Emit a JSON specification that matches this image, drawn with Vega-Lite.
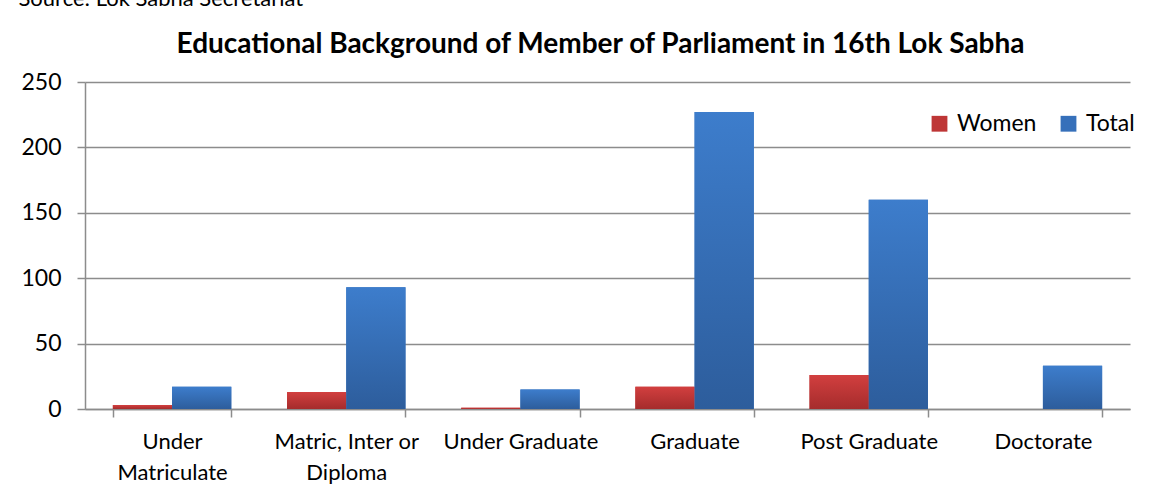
{
  "$schema": "https://vega.github.io/schema/vega-lite/v6.json",
  "width": 1045,
  "height": 327,
  "autosize": {"type": "none"},
  "padding": {"left": 85, "top": 82, "right": 21, "bottom": 94},
  "background": "white",
  "title": {
    "text": "Educational Background of Member of Parliament in 16th Lok Sabha",
    "font": "Lato",
    "fontSize": 28,
    "fontWeight": "bold",
    "color": "black",
    "anchor": "middle",
    "baseline": "alphabetic",
    "offset": 0,
    "dy": 94,
    "dx": -7
  },
  "data": {
    "values": [
      {"category": "Under Matriculate", "series": "Women", "value": 3},
      {"category": "Under Matriculate", "series": "Total", "value": 17},
      {"category": "Matric, Inter or Diploma", "series": "Women", "value": 13},
      {"category": "Matric, Inter or Diploma", "series": "Total", "value": 93},
      {"category": "Under Graduate", "series": "Women", "value": 1},
      {"category": "Under Graduate", "series": "Total", "value": 15},
      {"category": "Graduate", "series": "Women", "value": 17},
      {"category": "Graduate", "series": "Total", "value": 227},
      {"category": "Post Graduate", "series": "Women", "value": 26},
      {"category": "Post Graduate", "series": "Total", "value": 160},
      {"category": "Doctorate", "series": "Women", "value": 0},
      {"category": "Doctorate", "series": "Total", "value": 33}
    ]
  },
  "encoding": {
    "x": {
      "field": "category",
      "type": "nominal",
      "sort": null,
      "scale": {"paddingInner": 0.32, "paddingOuter": 0.16},
      "axis": {
        "title": null,
        "labelAngle": 0,
        "labelFont": "Lato",
        "labelFontSize": 22,
        "labelColor": "black",
        "labelLineHeight": 31,
        "labelPadding": 14,
        "labelOverlap": false,
        "labelLimit": 300,
        "labelExpr": "datum.value == 'Under Matriculate' ? ['Under', 'Matriculate'] : datum.value == 'Matric, Inter or Diploma' ? ['Matric, Inter or', 'Diploma'] : datum.value",
        "tickBand": "extent",
        "tickSize": 8,
        "tickColor": "#8c8c8c",
        "tickWidth": 1.5,
        "domainColor": "#8c8c8c",
        "domainWidth": 1.5
      }
    },
    "xOffset": {"field": "series", "type": "nominal", "sort": ["Women", "Total"]},
    "y": {
      "field": "value",
      "type": "quantitative",
      "scale": {"domain": [0, 250], "nice": false},
      "axis": {
        "title": "Source: Lok Sabha Secretariat",
        "titleAngle": 0,
        "titleX": -67,
        "titleY": -77,
        "titleAlign": "left",
        "titleBaseline": "alphabetic",
        "titleFont": "Lato",
        "titleFontSize": 22,
        "titleFontWeight": "normal",
        "titleColor": "black",
        "values": [0, 50, 100, 150, 200, 250],
        "labelFont": "Lato",
        "labelFontSize": 23,
        "labelColor": "black",
        "labelPadding": 16,
        "tickSize": 8,
        "tickColor": "#8c8c8c",
        "tickWidth": 1.5,
        "domainColor": "#8c8c8c",
        "domainWidth": 1.5,
        "grid": true,
        "gridColor": "#8c8c8c",
        "gridWidth": 1.5
      }
    }
  },
  "layer": [
    {
      "mark": {"type": "bar"},
      "encoding": {
        "color": {
          "field": "series",
          "type": "nominal",
          "sort": ["Women", "Total"],
          "scale": {"domain": ["Women", "Total"], "range": ["#BE3636", "#3670BA"]},
          "legend": {
            "title": null,
            "orient": "none",
            "legendX": 843,
            "legendY": 30,
            "direction": "horizontal",
            "symbolType": "square",
            "symbolSize": 250,
            "symbolStrokeWidth": 0,
            "labelFont": "Lato",
            "labelFontSize": 23,
            "labelColor": "black",
            "labelOffset": 6,
            "columnPadding": 20
          }
        }
      }
    },
    {
      "transform": [{"filter": "datum.series == 'Women'"}],
      "mark": {
        "type": "bar",
        "fill": {
          "gradient": "linear", "x1": 0, "y1": 0, "x2": 0, "y2": 1,
          "stops": [{"offset": 0, "color": "#D23F3F"}, {"offset": 1, "color": "#A52C2C"}]
        }
      },
      "encoding": {}
    },
    {
      "transform": [{"filter": "datum.series == 'Total'"}],
      "mark": {
        "type": "bar",
        "fill": {
          "gradient": "linear", "x1": 0, "y1": 0, "x2": 0, "y2": 1,
          "stops": [{"offset": 0, "color": "#3D7DCC"}, {"offset": 1, "color": "#2D5D9C"}]
        }
      },
      "encoding": {}
    }
  ],
  "config": {
    "view": {"stroke": null}
  }
}
